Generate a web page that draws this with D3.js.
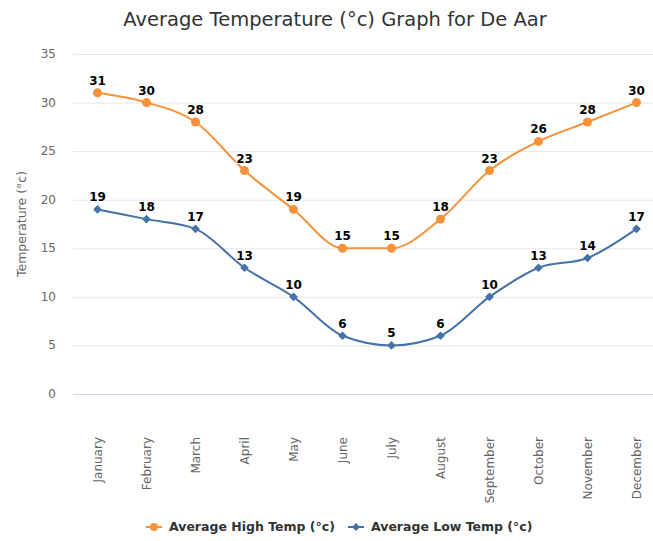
<!DOCTYPE html>
<html><head><meta charset="utf-8">
<script src="https://cdn.jsdelivr.net/npm/d3@7"></script>
<style>body{margin:0;background:#fff}svg{display:block;font-family:"DejaVu Sans",sans-serif}</style>
</head><body>
<script>
const months = ["January","February","March","April","May","June","July","August","September","October","November","December"];
const highTemps = [31,30,28,23,19,15,15,18,23,26,28,30];
const lowTemps = [19,18,17,13,10,6,5,6,10,13,14,17];
const yTicks = [0,5,10,15,20,25,30,35];
const seriesNames = ["Average High Temp (°c)","Average Low Temp (°c)"];
const colors = ["#f7923a","#4572a7"];

const W=653,H=541;
const svg=d3.select("body").append("svg").attr("width",W).attr("height",H);
const x=d3.scaleBand().domain(months).range([73,661]);
const y=d3.scaleLinear().domain([0,35]).range([394,54]);
const cx=m=>x(m)+x.bandwidth()/2;

svg.append("text").attr("x",335).attr("y",26).attr("text-anchor","middle")
 .attr("font-size",19.5).attr("fill","#333").text("Average Temperature (°c) Graph for De Aar");

const g=svg.append("g");
g.selectAll("line.grid").data(yTicks.filter(t=>t>0)).join("line")
 .attr("x1",73).attr("x2",661).attr("y1",d=>y(d)+0.5).attr("y2",d=>y(d)+0.5)
 .attr("stroke","#e6e6e6");
g.append("line").attr("x1",73).attr("x2",661).attr("y1",y(0)+0.5).attr("y2",y(0)+0.5).attr("stroke","#ccd6eb");
g.selectAll("text.yt").data(yTicks).join("text")
 .attr("x",56).attr("y",d=>y(d)+4).attr("text-anchor","end").attr("font-size",12).attr("fill","#666").text(d=>d);
svg.append("text").attr("transform","translate(26,224) rotate(-90)").attr("text-anchor","middle")
 .attr("font-size",12.5).attr("fill","#666").text("Temperature (°c)");
g.selectAll("text.xt").data(months).join("text")
 .attr("transform",d=>`translate(${cx(d)+4},437) rotate(-90)`).attr("text-anchor","end")
 .attr("font-size",12).attr("fill","#666").text(d=>d);

const line=d3.line().x((d,i)=>cx(months[i])).y(d=>y(d)).curve(d3.curveMonotoneX);
[highTemps,lowTemps].forEach((vals,si)=>{
  g.append("path").attr("d",line(vals)).attr("fill","none").attr("stroke",colors[si]).attr("stroke-width",2);
  if(si===0){
    g.selectAll(null).data(vals).join("circle").attr("cx",(d,i)=>cx(months[i])).attr("cy",d=>y(d)).attr("r",4.5).attr("fill",colors[si]);
  } else {
    g.selectAll(null).data(vals).join("path").attr("d",d3.symbol(d3.symbolDiamond2,48)())
     .attr("transform",(d,i)=>`translate(${cx(months[i])},${y(d)})`).attr("fill",colors[si]);
  }
  g.selectAll(null).data(vals).join("text").attr("x",(d,i)=>cx(months[i])).attr("y",d=>y(d)-8)
   .attr("text-anchor","middle").attr("font-size",12).attr("font-weight","bold").attr("fill","#000")
   .attr("stroke","#fff").attr("stroke-width",2).attr("paint-order","stroke").text(d=>d);
});

// legend
const lg=svg.append("g");
const items=[{x:146},{x:348}];
items.forEach((it,i)=>{
  lg.append("line").attr("x1",it.x).attr("x2",it.x+16).attr("y1",527).attr("y2",527).attr("stroke",colors[i]).attr("stroke-width",2);
  if(i===0) lg.append("circle").attr("cx",it.x+8).attr("cy",527).attr("r",4).attr("fill",colors[i]);
  else lg.append("path").attr("d",d3.symbol(d3.symbolDiamond2,40)()).attr("transform",`translate(${it.x+8},527)`).attr("fill",colors[i]);
  lg.append("text").attr("x",it.x+23).attr("y",531).attr("font-size",12.5).attr("font-weight","bold").attr("fill","#333").text(seriesNames[i]);
});
</script>
</body></html>
